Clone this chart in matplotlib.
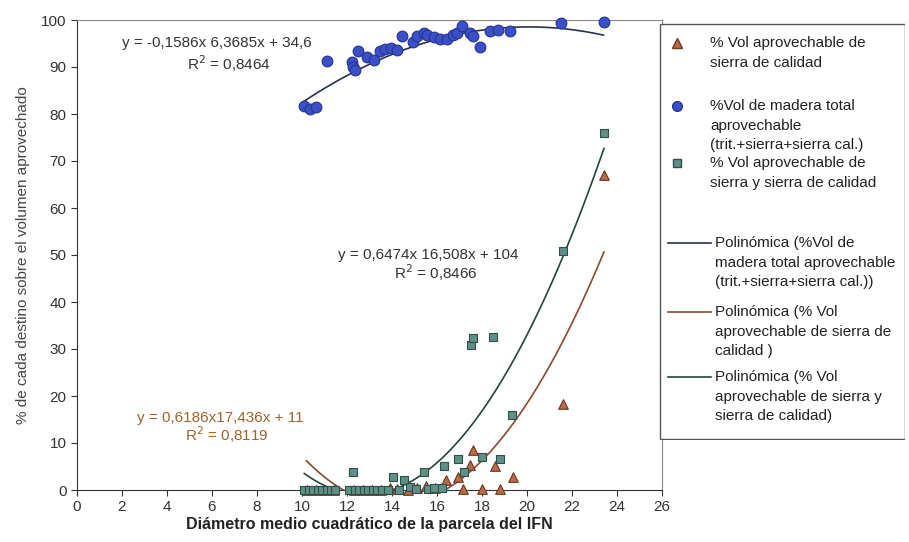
import numpy as np
import matplotlib.pyplot as plt
from matplotlib.patches import Rectangle

plt.rcParams['font.family'] = ['Liberation Sans', 'DejaVu Sans']

# --- data ---
# % vol de madera total aprovechable (blue circles)
tot_x = [10.1, 10.35, 10.6, 11.1, 12.2, 12.25, 12.35, 12.5, 12.9, 13.2, 13.45, 13.7,
         13.95, 14.2, 14.45, 14.95, 15.1, 15.4, 15.55, 15.85, 16.15, 16.45, 16.7, 16.9,
         17.1, 17.45, 17.6, 17.9, 18.35, 18.7, 19.25, 21.5, 23.4]
tot_y = [81.8, 81.0, 81.4, 91.3, 91.1, 90.0, 89.3, 93.3, 92.2, 91.5, 93.3, 93.8,
         94.0, 93.6, 96.6, 95.4, 96.5, 97.2, 96.8, 96.3, 95.9, 95.9, 96.8, 97.3,
         98.7, 97.2, 96.6, 94.3, 97.7, 97.9, 97.7, 99.3, 99.6]

# % vol sierra y sierra de calidad (squares)
sq_x = [10.1, 10.3, 10.5, 10.7, 10.9, 11.1, 11.3, 11.45, 12.1, 12.28, 12.35, 12.55,
        12.75, 12.95, 13.15, 13.35, 13.55, 13.8, 14.06, 14.3, 14.53, 14.8, 15.05, 15.44,
        15.6, 15.85, 16.2, 16.3, 16.95, 17.2, 17.5, 17.59, 17.99, 18.48, 18.8, 19.32,
        21.59, 23.42]
sq_y = [0, 0, 0, 0, 0, 0, 0, 0, 0, 3.9, 0, 0,
        0, 0, 0, 0, 0, 0, 2.7, 0, 2.1, 0.6, 0.3, 3.9,
        0.3, 0.5, 0.5, 5.1, 6.5, 3.9, 30.9, 32.3, 7.0, 32.5, 6.5, 16.0,
        50.9, 76.0]

# % vol sierra de calidad (triangles)
tri_x = [10.2, 10.6, 11.0, 11.4, 12.3, 12.7, 13.1, 13.5, 13.9, 14.2, 14.7, 15.1,
         15.5, 15.9, 16.4, 16.95, 17.17, 17.47, 17.61, 17.99, 18.58, 18.8, 19.39,
         21.59, 23.42]
tri_y = [0, 0, 0, 0, 0, 0, 0, 0, 0.4, 0.3, 0, 0.4,
         0.8, 0.5, 2.1, 2.8, 0.2, 5.3, 8.5, 0.2, 5.1, 0.2, 2.8,
         18.4, 67.0]

# trendline coefficients (as printed on the chart)
tot_coef = [-0.1586, 6.3685, 34.6]
sq_coef = [0.6474, -16.508, 104.2]
tri_coef = [0.6186, -17.436, 119.7]

x_ticks = list(range(0, 27, 2))
y_ticks = list(range(0, 101, 10))

c_tot, e_tot = '#3b4fc8', '#26348c'
c_sq, e_sq = '#5f8f86', '#2d5049'
c_tri, e_tri = '#b96c4a', '#6e3420'
l_tot, l_sq, l_tri = '#26344f', '#234637', '#8a4a2e'

fig = plt.figure(figsize=(9.09, 5.42), dpi=100)
ax = fig.add_axes([77/909, 1-490/542, 585/909, 470/542])

ax.scatter(tri_x, tri_y, marker='^', s=48, c=c_tri, edgecolors=e_tri, linewidths=0.8, zorder=3, clip_on=False)
ax.scatter(sq_x, sq_y, marker='s', s=30, c=c_sq, edgecolors=e_sq, linewidths=0.8, zorder=4, clip_on=False)
ax.scatter(tot_x, tot_y, marker='o', s=60, c=c_tot, edgecolors=e_tot, linewidths=0.8, zorder=5, clip_on=False)

for xs, coef, col in [(tot_x, tot_coef, l_tot), (tri_x, tri_coef, l_tri), (sq_x, sq_coef, l_sq)]:
    xx = np.linspace(min(xs), max(xs), 300)
    ax.plot(xx, np.polyval(coef, xx), color=col, lw=1.2, zorder=2)

ax.set_xlim(0, 26)
ax.set_ylim(0, 100)
ax.set_xticks(x_ticks)
ax.set_yticks(y_ticks)
ax.tick_params(direction='out', length=4, width=0.8, colors='#333333', labelsize=11)
for s in ['left', 'bottom']:
    ax.spines[s].set_color('#333333')
for s in ['top', 'right']:
    ax.spines[s].set_color('#888888')
    ax.spines[s].set_linewidth(0.8)

ax.set_xlabel('Diámetro medio cuadrático de la parcela del IFN', fontsize=11.5,
              fontweight='bold', color='#222222', labelpad=2)
ax.set_ylabel('% de cada destino sobre el volumen aprovechado', fontsize=11,
              color='#444444', labelpad=8)

# equation labels
eq_kw = dict(ha='left', va='center', fontsize=11)
ax.text(2.0, 95.0, 'y = -0,1586x 6,3685x + 34,6', color='#333333', **eq_kw)
ax.text(4.9, 90.8, 'R$^2$ = 0,8464', color='#333333', **eq_kw)
ax.text(11.6, 50.0, 'y = 0,6474x 16,508x + 104', color='#333333', **eq_kw)
ax.text(14.1, 46.3, 'R$^2$ = 0,8466', color='#333333', **eq_kw)
ax.text(2.65, 15.3, 'y = 0,6186x17,436x + 11', color='#a0622c', **eq_kw)
ax.text(4.8, 11.7, 'R$^2$ = 0,8119', color='#a0622c', **eq_kw)

# legend box drawn in its own axes (pixel-like coords)
lax = fig.add_axes([659/909, 1-440/542, 246/909, 417/542])
lax.set_xlim(659, 905)
lax.set_ylim(440, 23)
lax.axis('off')
lax.add_patch(Rectangle((659.5, 23.5), 245, 416, fill=True, facecolor='white',
                        edgecolor='#555555', lw=1.0))

entries = [
    ('^', c_tri, e_tri, 43, ['% Vol aprovechable de', 'sierra de calidad']),
    ('o', c_tot, e_tot, 106, ['%Vol de madera total', 'aprovechable', '(trit.+sierra+sierra cal.)']),
    ('s', c_sq, e_sq, 163, ['% Vol aprovechable de', 'sierra y sierra de calidad']),
    ('-', l_tot, None, 243, ['Polinómica (%Vol de', 'madera total aprovechable', '(trit.+sierra+sierra cal.))']),
    ('-', l_tri, None, 312, ['Polinómica (% Vol', 'aprovechable de sierra de', 'calidad )']),
    ('-', l_sq, None, 377, ['Polinómica (% Vol', 'aprovechable de sierra y', 'sierra de calidad)']),
]
for mk, col, ec, y0, lines in entries:
    if mk == '-':
        lax.plot([668, 711], [y0, y0], color=col, lw=1.2)
        tx = 715
    else:
        lax.plot([677], [y0], marker=mk, ms=7 if mk != 's' else 5.5, color=col,
                 markeredgecolor=ec, lw=0)
        tx = 710
    for i, t in enumerate(lines):
        lax.text(tx, y0 + i * 19.7, t, ha='left', va='center', fontsize=11, color='#222222')

fig.savefig('out.png', dpi=100)
